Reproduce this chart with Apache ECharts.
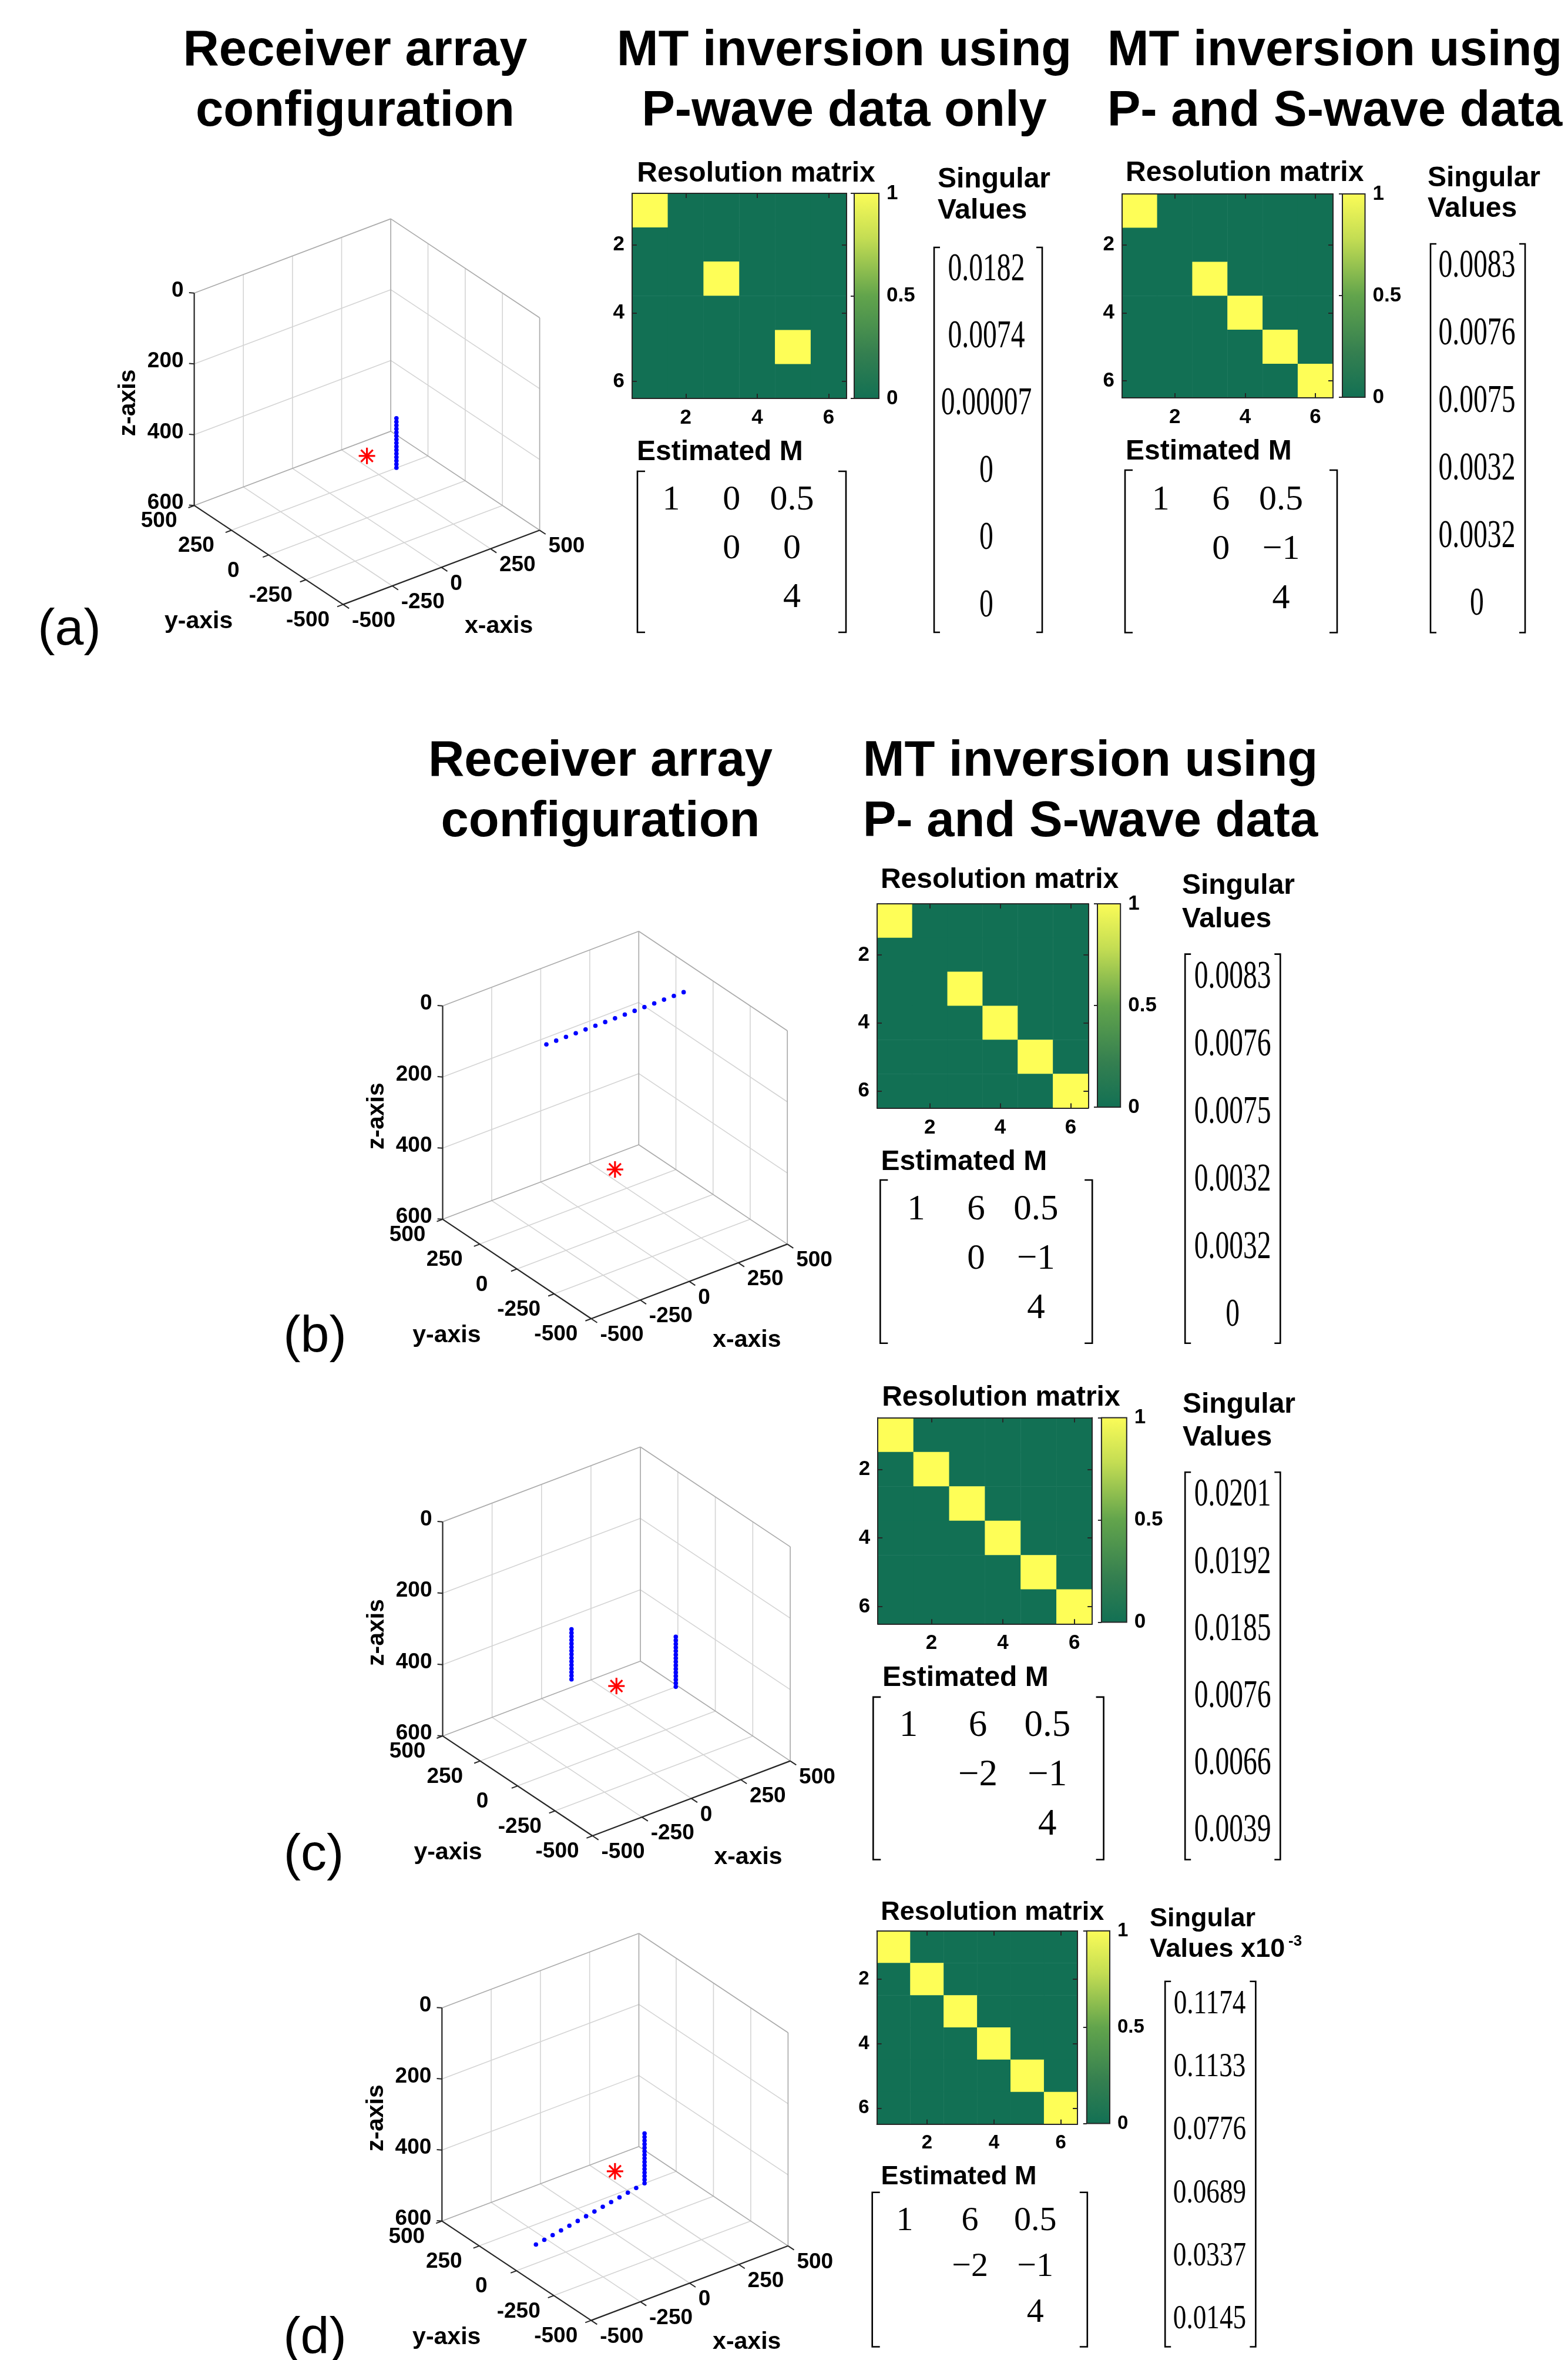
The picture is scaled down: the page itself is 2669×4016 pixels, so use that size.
<!DOCTYPE html>
<html><head><meta charset="utf-8">
<script src="https://cdn.jsdelivr.net/npm/echarts@6/dist/echarts.min.js"></script>
<style>html,body{margin:0;padding:0;background:#fff}#c{width:2669px;height:4016px}</style>
</head><body><div id="c"></div>
<script>
// ================= DATA =================
const xTicks = [-500, -250, 0, 250, 500];
const yTicks = [-500, -250, 0, 250, 500];
const zTicks = [0, 200, 400, 600];
const sourceLoc = [[0, 0, 425]];
const receiversA = [[150,0,350],[150,0,360],[150,0,370],[150,0,380],[150,0,390],[150,0,400],[150,0,410],[150,0,420],[150,0,430],[150,0,440],[150,0,450],[150,0,460],[150,0,470],[150,0,480],[150,0,490]];
const receiversB = [[-350,0,0],[-300,0,0],[-250,0,0],[-200,0,0],[-150,0,0],[-100,0,0],[-50,0,0],[0,0,0],[50,0,0],[100,0,0],[150,0,0],[200,0,0],[250,0,0],[300,0,0],[350,0,0]];
const receiversC = [[0,300,350],[0,300,360],[0,300,370],[0,300,380],[0,300,390],[0,300,400],[0,300,410],[0,300,420],[0,300,430],[0,300,440],[0,300,450],[0,300,460],[0,300,470],[0,300,480],[0,300,490],
  [300,0,350],[300,0,360],[300,0,370],[300,0,380],[300,0,390],[300,0,400],[300,0,410],[300,0,420],[300,0,430],[300,0,440],[300,0,450],[300,0,460],[300,0,470],[300,0,480],[300,0,490]];
const receiversD = [[150,0,350],[150,0,360],[150,0,370],[150,0,380],[150,0,390],[150,0,400],[150,0,410],[150,0,420],[150,0,430],[150,0,440],[150,0,450],[150,0,460],[150,0,470],[150,0,480],[150,0,490],
  [100,-10,490],[50,-20,490],[0,-30,490],[-50,-40,490],[-100,-50,490],[-150,-60,490],[-200,-70,490],[-250,-80,490],[-300,-90,490],[-350,-100,490],[-400,-110,490],[-450,-120,490],[-500,-130,490]];

const matrixTicks = ['1','2','3','4','5','6'];
const colorbarTicks = [0, 0.5, 1];
const resDiagAP  = [1,0,1,0,1,0];
const resDiagAPS = [1,0,1,1,1,1];
const resDiagB   = [1,0,1,1,1,1];
const resDiagC   = [1,1,1,1,1,1];
const resDiagD   = [1,1,1,1,1,1];
const estMAP  = [['1','0','0.5'],['','0','0'],['','','4']];
const estMAPS = [['1','6','0.5'],['','0','\u22121'],['','','4']];
const estMB   = [['1','6','0.5'],['','0','\u22121'],['','','4']];
const estMC   = [['1','6','0.5'],['','\u22122','\u22121'],['','','4']];
const estMD   = [['1','6','0.5'],['','\u22122','\u22121'],['','','4']];
const svAP  = ['0.0182','0.0074','0.00007','0','0','0'];
const svAPS = ['0.0083','0.0076','0.0075','0.0032','0.0032','0'];
const svB   = ['0.0083','0.0076','0.0075','0.0032','0.0032','0'];
const svC   = ['0.0201','0.0192','0.0185','0.0076','0.0066','0.0039'];
const svD   = ['0.1174','0.1133','0.0776','0.0689','0.0337','0.0145'];

// ================= STYLE / LAYOUT =================
const SANS = '"Liberation Sans", Arial, Helvetica, sans-serif';
const SERIF = '"Liberation Serif", "Times New Roman", serif';
const GRID_C = '#d4d4d4', EDGE_C = '#ababab', AX_C = '#262626';
const LOW_C = '#127054', HIGH_C = '#FEFE57';
const PROJ = {xv:[333.8,126.9], yv:[-252.9,169.2], zh:363.2};
const TICK_FS = 37, AXT_FS = 41;

const PANEL3D = [
  {rect:[330.6,372.4,588,656.2], rec:receiversA, label:'(a)', lp:[118,1073]},
  {rect:[753.5,1584.8,586.7,659.2], rec:receiversB, label:'(b)', lp:[536,2276]},
  {rect:[753.5,2462.3,591.6,661.7], rec:receiversC, label:'(c)', lp:[534,3158]},
  {rect:[752.3,3290,589.1,658.6], rec:receiversD, label:'(d)', lp:[536,3980]}
];
const HP = [
 {diag:resDiagAP, M:estMAP, sv:svAP, heat:[1076,329,365,349], cbar:[1454,329,42,349],
  res:[1287,313], est:[1084,787], svt:[1596,323,376], fs:48, tfs:35,
  m:{c1:1142.6, cs:102.7, r1:851.6, rs:82.7, font:60, br:[1085,1440,802,1076]},
  s:{cx:1679, r1:458.7, rs:114.4, font:68, sx:0.70, br:[1590,1774,421,1076]}},
 {diag:resDiagAPS, M:estMAPS, sv:svAPS, heat:[1910,330,359,347], cbar:[2285,330,38.5,346],
  res:[2118.7,312], est:[1916,786], svt:[2430,321,373], fs:48, tfs:35,
  m:{c1:1975.7, cs:102.45, r1:851.6, rs:84, font:60, br:[1915,2276,800,1076.5]},
  s:{cx:2514, r1:453.2, rs:114.9, font:68, sx:0.70, br:[2435,2596,415,1076.5]}},
 {diag:resDiagB, M:estMB, sv:svB, heat:[1493,1538,359.3,347.4], cbar:[1868,1538,39.2,346],
  res:[1701.6,1515], est:[1499.4,1995], svt:[2012,1525,1582], fs:48, tfs:35,
  m:{c1:1559.4, cs:102, r1:2058.5, rs:84.2, font:61, br:[1498.3,1859.2,2008,2285.8]},
  s:{cx:2098.2, r1:1662.9, rs:115, font:68, sx:0.70, br:[2017.2,2179.3,1623.6,2285.8]}},
 {diag:resDiagC, M:estMC, sv:svC, heat:[1494.1,2412.6,365.1,350.7], cbar:[1874.9,2412.6,42.9,347.8],
  res:[1703.9,2396], est:[1502,2873], svt:[2013,2408,2464], fs:48, tfs:35,
  m:{c1:1546.4, cs:118.2, r1:2937.3, rs:84.15, font:63, br:[1486.3,1878.6,2887.9,3164.5]},
  s:{cx:2098.2, r1:2544.5, rs:114.2, font:68, sx:0.70, br:[2017.2,2179.3,2505.2,3164.5]}},
 {diag:resDiagD, M:estMD, sv:svD, heat:[1492.6,3285.8,341.5,328.9], cbar:[1849.8,3285.8,39.2,327.8],
  res:[1689.2,3271], est:[1499.4,3721], svt:[1957,3282,3334], fs:45, tfs:33, sup:'-3',
  m:{c1:1539.9, cs:111.15, r1:3780.1, rs:78.05, font:58, br:[1484.7,1850.8,3730.7,3993.5]},
  s:{cx:2059, r1:3410.7, rs:107.2, font:58, sx:0.78, br:[1983.2,2137.4,3371.7,3993.5]}}
];
const HEADERS = [
  {t:'Receiver array', x:604.5, b:118}, {t:'configuration', x:604.5, b:221},
  {t:'MT inversion using', x:1437, b:118}, {t:'P-wave data only', x:1437, b:221},
  {t:'MT inversion using', x:2272, b:118}, {t:'P- and S-wave data', x:2272, b:221},
  {t:'Receiver array', x:1022, b:1327}, {t:'configuration', x:1022, b:1430},
  {t:'MT inversion using', x:1856, b:1327}, {t:'P- and S-wave data', x:1856, b:1430}
];

// ================= BUILD =================
const grids=[], xAxes=[], yAxes=[], series=[], graphics=[], heatSeriesIdx=[];
function addGrid(r){ grids.push({left:r[0], top:r[1], width:r[2], height:r[3], containLabel:false, outerBoundsMode:'none'}); return grids.length-1; }
function proj(x,y,z){
  const xn=(x-xTicks[0])/(xTicks[xTicks.length-1]-xTicks[0]);
  const yn=(y-yTicks[0])/(yTicks[yTicks.length-1]-yTicks[0]);
  const zn=(z-zTicks[0])/(zTicks[zTicks.length-1]-zTicks[0]);
  return [PROJ.xv[0]*xn + PROJ.yv[0]*yn, PROJ.xv[1]*xn + PROJ.yv[1]*yn + PROJ.zh*(1-zn)];
}
function txt(x,y,t,o){
  return {type:'text', x:x, y:y, silent:true, style:Object.assign({text:t, fill:'#000', fontFamily:SANS, fontWeight:'bold', fontSize:TICK_FS, align:'center', verticalAlign:'middle'}, o||{})};
}

function frameRender(params, api){
  const P=(x,y,z)=>api.coord(proj(x,y,z));
  const ch=[];
  const ln=(a,b,col,w)=>ch.push({type:'line', silent:true, shape:{x1:a[0],y1:a[1],x2:b[0],y2:b[1]}, style:{stroke:col, lineWidth:w}});
  const X0=xTicks[0], X1=xTicks[xTicks.length-1], Y0=yTicks[0], Y1=yTicks[yTicks.length-1], Z0=zTicks[0], Z1=zTicks[zTicks.length-1];
  const inX=xTicks.slice(1,-1), inY=yTicks.slice(1,-1), inZ=zTicks.slice(1,-1);
  inX.forEach(v=>ln(P(v,Y0,Z1),P(v,Y1,Z1),GRID_C,1.6));
  inY.forEach(v=>ln(P(X0,v,Z1),P(X1,v,Z1),GRID_C,1.6));
  inX.forEach(v=>ln(P(v,Y1,Z0),P(v,Y1,Z1),GRID_C,1.6));
  inZ.forEach(v=>ln(P(X0,Y1,v),P(X1,Y1,v),GRID_C,1.6));
  inY.forEach(v=>ln(P(X1,v,Z0),P(X1,v,Z1),GRID_C,1.6));
  inZ.forEach(v=>ln(P(X1,Y0,v),P(X1,Y1,v),GRID_C,1.6));
  ln(P(X0,Y1,Z0),P(X1,Y1,Z0),EDGE_C,1.7);
  ln(P(X1,Y0,Z0),P(X1,Y1,Z0),EDGE_C,1.7);
  ln(P(X1,Y1,Z0),P(X1,Y1,Z1),EDGE_C,1.7);
  ln(P(X1,Y0,Z0),P(X1,Y0,Z1),EDGE_C,1.7);
  ln(P(X0,Y1,Z1),P(X1,Y1,Z1),EDGE_C,1.7);
  ln(P(X1,Y0,Z1),P(X1,Y1,Z1),EDGE_C,1.7);
  ln(P(X0,Y1,Z0),P(X0,Y1,Z1),AX_C,2.2);
  ln(P(X0,Y0,Z1),P(X0,Y1,Z1),AX_C,2.2);
  ln(P(X0,Y0,Z1),P(X1,Y0,Z1),AX_C,2.2);
  zTicks.forEach(v=>{ const a=P(X0,Y1,v); ln(a,P(X0-15,Y1+15,v),AX_C,2);
    ch.push(txt(a[0]-18,a[1]-4,String(v),{align:'right'})); });
  yTicks.forEach(v=>{ const a=P(X0,v,Z1); ln(a,P(X0-30,v,Z1),AX_C,2);
    ch.push(txt(a[0]-60,a[1]+27,String(v))); });
  xTicks.forEach(v=>{ const a=P(v,Y0,Z1); ln(a,P(v,Y0-40,Z1),AX_C,2);
    ch.push(txt(a[0]+15,a[1]+28,String(v),{align:'left'})); });
  const zm=P(X0,Y1,(Z0+Z1)/2), fr=P(X0,Y0,Z1);
  ch.push(Object.assign(txt(zm[0]-112,zm[1]+6,'z-axis',{fontSize:AXT_FS}),{rotation:Math.PI/2}));
  ch.push(txt(fr[0]-246,fr[1]+29,'y-axis',{fontSize:AXT_FS}));
  ch.push(txt(fr[0]+265,fr[1]+37,'x-axis',{fontSize:AXT_FS}));
  return {type:'group', children:ch};
}
function recRender(params, api){
  const p=api.coord(proj(api.value(0),api.value(1),api.value(2)));
  return {type:'circle', shape:{cx:p[0], cy:p[1], r:3.8}, style:{fill:'#0000ff'}};
}
function srcRender(params, api){
  const p=api.coord(proj(api.value(0),api.value(1),api.value(2)));
  const r=14, d=r*0.72, ch=[];
  [[0,-r,0,r],[-r,0,r,0],[-d,-d,d,d],[-d,d,d,-d]].forEach(s=>ch.push({type:'line', shape:{x1:p[0]+s[0],y1:p[1]+s[1],x2:p[0]+s[2],y2:p[1]+s[3]}, style:{stroke:'#ff0000', lineWidth:3.2}}));
  return {type:'group', children:ch};
}

PANEL3D.forEach(pn=>{
  const g=addGrid(pn.rect);
  const xi=xAxes.push({gridIndex:g, type:'value', min:PROJ.yv[0], max:PROJ.xv[0], show:false})-1;
  const yi=yAxes.push({gridIndex:g, type:'value', min:0, max:PROJ.xv[1]+PROJ.yv[1]+PROJ.zh, show:false})-1;
  series.push({type:'custom', xAxisIndex:xi, yAxisIndex:yi, data:[[0,0]], renderItem:frameRender, silent:true, clip:false, z:1});
  series.push({type:'custom', xAxisIndex:xi, yAxisIndex:yi, data:pn.rec, dimensions:['x','y','z'], encode:{x:0,y:1}, renderItem:recRender, silent:true, clip:false, z:3});
  series.push({type:'custom', xAxisIndex:xi, yAxisIndex:yi, data:sourceLoc, dimensions:['x','y','z'], encode:{x:0,y:1}, renderItem:srcRender, silent:true, clip:false, z:4});
  graphics.push(txt(pn.lp[0], pn.lp[1], pn.label, {fontWeight:'normal', fontSize:88}));
});

function catAxis(g,pos,showLabel,fs){
  const isX = (pos==='bottom'||pos==='top');
  return {gridIndex:g, type:'category', data:matrixTicks, position:pos, inverse:!isX, z:10,
    axisLine:{show:true, onZero:false, lineStyle:{color:AX_C, width:2}},
    axisTick:{show:true, inside:true, length:8, alignWithLabel:true, interval:(i)=>i%2===1, lineStyle:{color:AX_C, width:2}},
    axisLabel:{show:showLabel, interval:(i)=>i%2===1, margin:isX?16:13, color:'#000', fontSize:fs, fontWeight:'bold', fontFamily:SANS},
    splitLine:{show:false}};
}
function buildRes(diag){
  const out=[];
  for(let i=0;i<diag.length;i++) for(let j=0;j<diag.length;j++) out.push([j,i,i===j?diag[i]:0]);
  return out;
}
function bracketPair(br, serif){
  const [xl,xr,t,b]=br;
  graphics.push({type:'polyline', silent:true, shape:{points:[[xl+serif,t],[xl,t],[xl,b],[xl+serif,b]]}, style:{stroke:'#000', lineWidth:2.6, fill:null}});
  graphics.push({type:'polyline', silent:true, shape:{points:[[xr-serif,t],[xr,t],[xr,b],[xr-serif,b]]}, style:{stroke:'#000', lineWidth:2.6, fill:null}});
}

HP.forEach(hp=>{
  const g=addGrid(hp.heat);
  const xb=xAxes.push(catAxis(g,'bottom',true,hp.tfs))-1;
  xAxes.push(catAxis(g,'top',false,hp.tfs));
  const yl=yAxes.push(catAxis(g,'left',true,hp.tfs))-1;
  yAxes.push(catAxis(g,'right',false,hp.tfs));
  heatSeriesIdx.push(series.length);
  series.push({type:'heatmap', xAxisIndex:xb, yAxisIndex:yl, data:buildRes(hp.diag), itemStyle:{borderWidth:0}, emphasis:{disabled:true}, silent:true, z:2});
  const gc=addGrid(hp.cbar);
  const cx=xAxes.push({gridIndex:gc, type:'value', min:0, max:1, show:false})-1;
  const cy=yAxes.push({gridIndex:gc, type:'value', min:colorbarTicks[0], max:colorbarTicks[colorbarTicks.length-1], interval:colorbarTicks[1]-colorbarTicks[0], position:'right', z:10,
    axisLine:{show:false}, axisTick:{show:true, inside:true, length:6, lineStyle:{color:AX_C, width:2}},
    axisLabel:{margin:13, color:'#000', fontSize:hp.tfs, fontWeight:'bold', fontFamily:SANS, formatter:(v)=>String(v)}, splitLine:{show:false}})-1;
  series.push({type:'custom', xAxisIndex:cx, yAxisIndex:cy, data:[[0,0]], silent:true, z:2, renderItem:(p,api)=>{
    const a=api.coord([0,1]), b=api.coord([1,0]);
    return {type:'rect', shape:{x:a[0], y:a[1], width:b[0]-a[0], height:b[1]-a[1]},
      style:{fill:new echarts.graphic.LinearGradient(0,0,0,1,[{offset:0,color:'#FBFC58'},{offset:0.22,color:'#C4DD53'},{offset:0.5,color:'#62A44C'},{offset:0.78,color:'#347F50'},{offset:1,color:LOW_C}]), stroke:AX_C, lineWidth:2}};
  }});
  const capc = hp.fs*0.358;
  graphics.push(txt(hp.res[0], hp.res[1]-capc, 'Resolution matrix', {fontSize:hp.fs}));
  graphics.push(txt(hp.est[0], hp.est[1]-capc, 'Estimated M', {fontSize:hp.fs, align:'left'}));
  graphics.push(txt(hp.svt[0], hp.svt[1]-capc, 'Singular', {fontSize:hp.fs, align:'left'}));
  graphics.push(txt(hp.svt[0], hp.svt[2]-capc, hp.sup ? 'Values x10' : 'Values', {fontSize:hp.fs, align:'left'}));
  if(hp.sup) graphics.push(txt(hp.svt[0]+236, hp.svt[2]-capc-14, hp.sup, {fontSize:26, align:'left'}));
  const m=hp.m;
  const gm=addGrid([m.c1-m.cs/2, m.r1-m.rs/2, 3*m.cs, 3*m.rs]);
  const mx=xAxes.push({gridIndex:gm, type:'category', data:['1','2','3'], show:false})-1;
  const my=yAxes.push({gridIndex:gm, type:'category', data:['1','2','3'], inverse:true, show:false})-1;
  const mData=[], mText=[];
  hp.M.forEach((row,i)=>row.forEach((t,j)=>{ if(t!==''){ mData.push([j,i]); mText.push(t); } }));
  series.push({type:'custom', xAxisIndex:mx, yAxisIndex:my, data:mData, silent:true, z:3, renderItem:(p,api)=>{
    const c=api.coord([api.value(0),api.value(1)]);
    return {type:'text', x:c[0], y:c[1], style:{text:mText[p.dataIndex], fill:'#000', fontSize:m.font, fontFamily:SERIF, align:'center', verticalAlign:'middle'}};
  }});
  bracketPair(m.br, 13);
  const s=hp.s;
  const gs=addGrid([s.cx-60, s.r1-s.rs/2, 120, hp.sv.length*s.rs]);
  const sx=xAxes.push({gridIndex:gs, type:'category', data:['v'], show:false})-1;
  const sy=yAxes.push({gridIndex:gs, type:'category', data:matrixTicks, inverse:true, show:false})-1;
  series.push({type:'custom', xAxisIndex:sx, yAxisIndex:sy, data:hp.sv.map((t,i)=>[0,i]), silent:true, z:3, renderItem:(p,api)=>{
    const c=api.coord([api.value(0),api.value(1)]);
    return {type:'text', x:c[0], y:c[1], scaleX:s.sx, style:{text:hp.sv[p.dataIndex], fill:'#000', fontSize:s.font, fontFamily:SERIF, align:'center', verticalAlign:'middle'}};
  }});
  bracketPair(s.br, 10);
});

HEADERS.forEach(h=>graphics.push(txt(h.x, h.b-85*0.358, h.t, {fontSize:85})));

const chart = echarts.init(document.getElementById('c'), null, {renderer:'canvas', width:2669, height:4016});
chart.setOption({
  animation:false,
  backgroundColor:'#ffffff',
  grid:grids, xAxis:xAxes, yAxis:yAxes,
  visualMap:[{type:'continuous', show:false, min:0, max:1, seriesIndex:heatSeriesIdx, inRange:{color:[LOW_C, HIGH_C]}}],
  graphic:{elements:graphics},
  series:series
});
</script>
</body></html>
